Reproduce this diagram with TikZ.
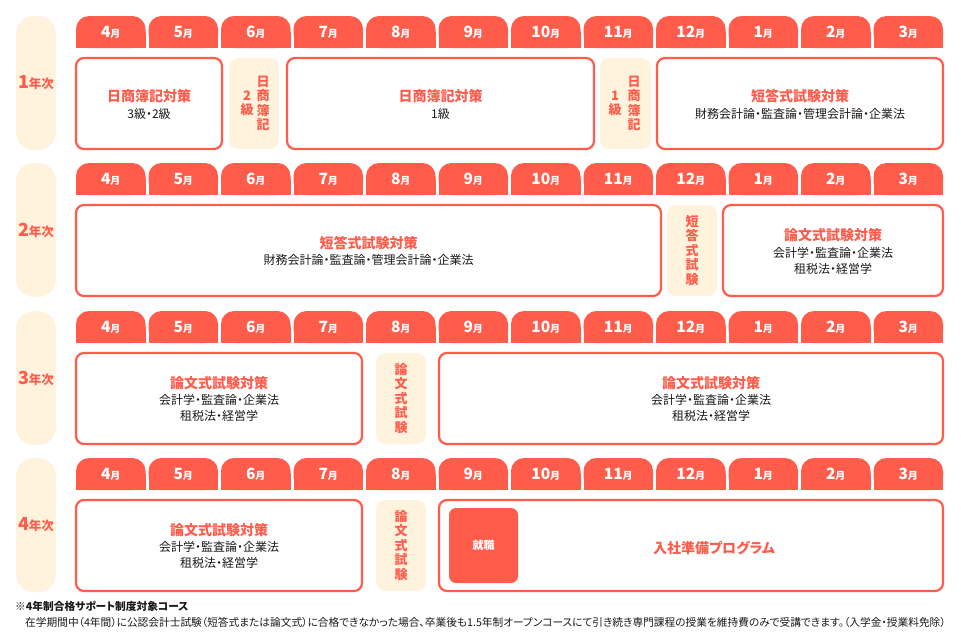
\documentclass[tikz,border=0pt]{standalone}
\usepackage{fontspec}
\setmainfont{Noto Sans CJK JP}[RawFeature=+palt]
\definecolor{coral}{HTML}{FF5C4B}
\definecolor{beige}{HTML}{FFF3DE}
\definecolor{ink}{HTML}{1A1A1A}
\newcommand\tabrow[2]{%
  \foreach \m [count=\i from 0] in {4,5,6,7,8,9,10,11,12,1,2,3}{
    \pgfmathsetmacro\xa{76+72.5*\i}
    \fill[coral, rounded corners=13pt] (\xa,#1) rectangle ++(69.5,32);
    \fill[coral] (\xa,#1+16) rectangle ++(69.5,16);
    \node[monthtxt] (m#2-\i) at (\xa+34.75,#1+16.5) {{\fontsize{15.5}{16}\selectfont\bfseries\m}{\fontsize{10}{12}\selectfont\bfseries 月}};
  }}
\newcommand\yearpill[3]{%
  \fill[beige, rounded corners=18pt] (16,#1) rectangle (56,#1+134);
  \node[yeartxt] (y#2) at (36,#1+67) {{\fontsize{18}{20}\selectfont #3}{\fontsize{12.5}{14}\selectfont 年次}};}
\begin{document}
\begin{tikzpicture}[x=1pt,y=-1pt,
  monthtxt/.style={text=white, inner sep=0},
  yeartxt/.style={text=coral, font=\bfseries, inner sep=0},
  box/.style={draw=coral, line width=2.2pt, rounded corners=8pt, fill=white},
  pale/.style={fill=beige, rounded corners=9pt},
  ttl/.style={text=coral, font=\fontsize{14}{16}\selectfont\bfseries, inner sep=0},
  sub/.style={text=ink, font=\fontsize{12}{14}\selectfont, inner sep=0},
  vert/.style={text=coral, font=\fontsize{13}{14.5}\selectfont\bfseries, align=center, inner sep=0},
  note/.style={text=ink, font=\fontsize{10.7}{12}\selectfont, inner sep=0, anchor=west}]
\useasboundingbox (0,0) rectangle (961,640);
\fill[white] (0,0) rectangle (961,640);

% ---------- Year 1 ----------
\yearpill{16}{1}{1}
\tabrow{16}{1}
\draw[box] (76,58) rectangle (222,149);
\node[ttl] (t11) at (149,96.5) {日商簿記対策};
\node[sub] (s11) at (149,113.5) {3級・2級};
\fill[pale] (229,58) rectangle (279,149);
\node[vert] (v12a) at (263,103.5) {日\\商\\簿\\記};
\node[vert, font=\fontsize{13}{13.5}\selectfont\bfseries] (v12b) at (247,103.5) {2\\級};
\draw[box] (287,58) rectangle (594,149);
\node[ttl] (t13) at (440.5,96.5) {日商簿記対策};
\node[sub] (s13) at (440.5,113.5) {1級};
\fill[pale] (600,58) rectangle (651,149);
\node[vert] (v14a) at (634,103.5) {日\\商\\簿\\記};
\node[vert, font=\fontsize{13}{13.5}\selectfont\bfseries] (v14b) at (615,103.5) {1\\級};
\draw[box] (657,58) rectangle (943,149);
\node[ttl] (t15) at (800,96.5) {短答式試験対策};
\node[sub] (s15) at (800,113.5) {財務会計論・監査論・管理会計論・企業法};

% ---------- Year 2 ----------
\yearpill{163}{2}{2}
\tabrow{163}{2}
\draw[box] (76,205) rectangle (661,296);
\node[ttl] (t21) at (368.5,243) {短答式試験対策};
\node[sub] (s21) at (368.5,260) {財務会計論・監査論・管理会計論・企業法};
\fill[pale] (667,205) rectangle (717,296);
\node[vert] (v22) at (692,250.5) {短\\答\\式\\試\\験};
\draw[box] (723,205) rectangle (943,296);
\node[ttl] (t23) at (833,235) {論文式試験対策};
\node[sub] (s23a) at (833,253) {会計学・監査論・企業法};
\node[sub] (s23b) at (833,269) {租税法・経営学};

% ---------- Year 3 ----------
\yearpill{311}{3}{3}
\tabrow{311}{3}
\draw[box] (76,353) rectangle (362,444);
\node[ttl] (t31) at (219,383) {論文式試験対策};
\node[sub] (s31a) at (219,400) {会計学・監査論・企業法};
\node[sub] (s31b) at (219,416) {租税法・経営学};
\fill[pale] (376,353) rectangle (426,444);
\node[vert] (v32) at (401,398.5) {論\\文\\式\\試\\験};
\draw[box] (439,353) rectangle (943,444);
\node[ttl] (t33) at (711,383) {論文式試験対策};
\node[sub] (s33a) at (711,400) {会計学・監査論・企業法};
\node[sub] (s33b) at (711,416) {租税法・経営学};

% ---------- Year 4 ----------
\yearpill{458}{4}{4}
\tabrow{458}{4}
\draw[box] (76,500) rectangle (362,591);
\node[ttl] (t41) at (219,530) {論文式試験対策};
\node[sub] (s41a) at (219,547) {会計学・監査論・企業法};
\node[sub] (s41b) at (219,563) {租税法・経営学};
\fill[pale] (376,500) rectangle (426,591);
\node[vert] (v42) at (401,545.5) {論\\文\\式\\試\\験};
\draw[box] (439,500) rectangle (943,591);
\fill[coral, rounded corners=7pt] (449,508) rectangle (518,583);
\node[text=white, font=\fontsize{11}{13}\selectfont\bfseries, inner sep=0] (job) at (483.5,545.5) {就職};
\node[ttl] (t43) at (714,548) {入社準備プログラム};

% ---------- Notes ----------
\node[note, font=\fontsize{10.7}{12}\selectfont\bfseries] (n1) at (15,606) {※4年制合格サポート制度対象コース};
\node[note] (n2) at (25,622) {在学期間中（4年間）に公認会計士試験（短答式または論文式）に合格できなかった場合、卒業後も1.5年制オープンコースにて引き続き専門課程の授業を維持費のみで受講できます。（入学金・授業料免除）};
\end{tikzpicture}
\end{document}
